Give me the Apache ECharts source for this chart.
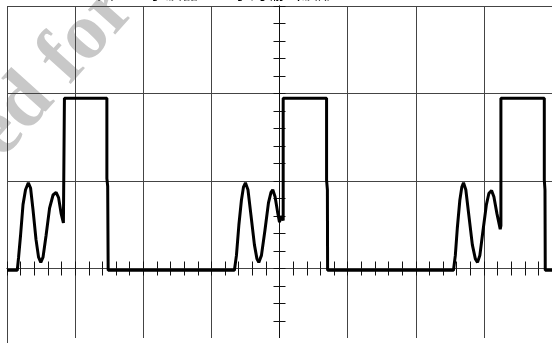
<!DOCTYPE html>
<html>
<head>
<meta charset="utf-8">
<script src="https://cdn.jsdelivr.net/npm/echarts@6/dist/echarts.min.js"></script>
<style>
  html, body { margin: 0; padding: 0; background: #fff; }
  #chart { width: 552px; height: 343px; }
</style>
</head>
<body>
<div id="chart"></div>
<script>
// 时间（格），以屏幕中心为 0
const timeDiv = [
  -4, -3.849, -3.831, -3.801, -3.765, -3.728, -3.687, -3.654, -3.618, -3.574, -3.537, -3.504,
  -3.471, -3.426, -3.375, -3.324, -3.279, -3.243, -3.206, -3.172, -3.157, -3.157, -2.534,
  -2.534, -2.522, -2.515, -0.662,
  -0.632, -0.596, -0.559, -0.529, -0.500, -0.463, -0.419, -0.368, -0.331, -0.304, -0.265,
  -0.213, -0.162, -0.125, -0.099, -0.065, -0.029, 0.000, 0.022, 0.054, 0.054, 0.691,
  0.691, 0.703, 0.706, 2.554,
  2.581, 2.610, 2.647, 2.676, 2.701, 2.735, 2.779, 2.831, 2.875, 2.907, 2.941,
  2.985, 3.037, 3.074, 3.113, 3.147, 3.191, 3.240, 3.250, 3.250, 3.887,
  3.887, 3.897, 3.901, 4
]
// 电压（格）
const voltDiv = [
  -0.02, -0.02, 0.12, 0.38, 0.73, 0.90, 0.98, 0.92, 0.67, 0.33, 0.13, 0.07,
  0.13, 0.38, 0.69, 0.84, 0.87, 0.81, 0.63, 0.52, 0.53, 1.945, 1.945,
  1.03, 0.94, -0.02, -0.02,
  0.15, 0.50, 0.78, 0.93, 0.98, 0.90, 0.61, 0.27, 0.11, 0.07, 0.15,
  0.44, 0.75, 0.87, 0.90, 0.82, 0.65, 0.53, 0.60, 0.55, 1.945, 1.945,
  1.01, 0.90, -0.02, -0.02,
  0.15, 0.46, 0.78, 0.93, 0.98, 0.90, 0.61, 0.27, 0.11, 0.07, 0.15,
  0.42, 0.73, 0.86, 0.89, 0.82, 0.63, 0.45, 0.49, 1.945, 1.945,
  1.01, 0.90, -0.02, -0.02
]
const titleText = '图乙：示波器上显示的输出波形'
const markText = 'ed for'

const chart = echarts.init(document.getElementById('chart'))

const gridColor = '#444'
const tickColor = '#111'

// 中心刻度轴（两侧各画一半）
const tickX = (inside) => ({
  type: 'value', min: -4, max: 4, interval: 0.2,
  axisLine: {show: true, onZero: true, lineStyle: {color: gridColor, width: 1}},
  axisTick: {show: true, inside: inside, length: 7, lineStyle: {color: tickColor}},
  axisLabel: {show: false},
  splitLine: {show: false}
})
const tickY = (inside) => ({
  type: 'value', min: -1, max: 3, interval: 0.2,
  axisLine: {show: true, onZero: true, lineStyle: {color: tickColor, width: 1}},
  axisTick: {show: true, inside: inside, length: 6, lineStyle: {color: tickColor}},
  axisLabel: {show: false},
  splitLine: {show: false}
})

const option = {
  animation: false,
  grid: {left: 7, top: 6, width: 545, height: 350, outerBoundsMode: 'none', containLabel: false},
  xAxis: [
    {
      type: 'value', min: -4, max: 4, interval: 1,
      axisLine: {show: false}, axisTick: {show: false}, axisLabel: {show: false},
      splitLine: {show: true, lineStyle: {color: gridColor, width: 1}}
    },
    tickX(true),
    tickX(false)
  ],
  yAxis: [
    {
      type: 'value', min: -1, max: 3, interval: 1,
      axisLine: {show: false}, axisTick: {show: false}, axisLabel: {show: false},
      splitLine: {show: true, lineStyle: {color: gridColor, width: 1}}
    },
    tickY(true),
    tickY(false)
  ],
  graphic: [
    {
      type: 'text', z: -10, x: -13, y: 146, rotation: 48 * Math.PI / 180,
      style: {
        text: markText, fill: '#c8c8c8',
        font: 'bold 80px "Liberation Serif", serif',
        textAlign: 'left', textVerticalAlign: 'middle'
      }
    },
    {
      type: 'text', x: 97, y: 1.5,
      style: {
        text: titleText, fill: '#000',
        font: '17px "Noto Sans CJK SC", sans-serif',
        textAlign: 'left', textVerticalAlign: 'bottom'
      }
    },
    {
      type: 'rect', z: 100,
      shape: {x: 9, y: 338, width: 545, height: 8},
      style: {fill: '#fff'}
    }
  ],
  series: [
    {
      type: 'line',
      xAxisIndex: 0,
      yAxisIndex: 0,
      showSymbol: false,
      z: 5,
      lineStyle: {color: '#000', width: 3},
      data: timeDiv.map((t, i) => [t, voltDiv[i]])
    }
  ]
}

chart.setOption(option)
</script>
</body>
</html>
